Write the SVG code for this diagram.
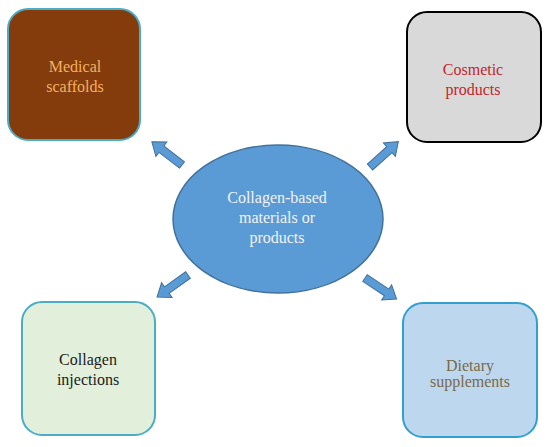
<svg xmlns="http://www.w3.org/2000/svg" width="550" height="447" viewBox="0 0 550 447">
<defs>
<style>
text{font-family:'Liberation Serif','DejaVu Serif',serif;font-size:16px;text-anchor:middle}
.box{stroke-width:2}
.arr{fill:#5b9bd5;stroke:#41719c;stroke-width:1}
</style>
<path id="arrow" d="M0,-4 H26 V-9 L38,0 L26,9 V4 H0 Z"/>
</defs>
<rect width="550" height="447" fill="#ffffff"/>
<g id="n-medical">
<rect class="box" x="8" y="9" width="132" height="131" rx="20" fill="#843c0c" stroke="#4bacc6"/>
<text x="75" y="72" fill="#f4b060" font-family="Liberation Serif, serif">Medical</text>
<text x="75" y="92" fill="#f4b060" font-family="Liberation Serif, serif">scaffolds</text>
</g>
<g id="n-cosmetic">
<rect class="box" x="407" y="12" width="134" height="130" rx="20" fill="#d9d9d9" stroke="#000000"/>
<text x="473" y="75" fill="#c0272d" font-family="Liberation Serif, serif">Cosmetic</text>
<text x="473" y="95" fill="#c0272d" font-family="Liberation Serif, serif">products</text>
</g>
<g id="n-injections">
<rect class="box" x="22" y="302" width="133" height="133" rx="20" fill="#e2efda" stroke="#4bacc6"/>
<text x="88" y="365" fill="#1a1a1a" font-family="Liberation Serif, serif">Collagen</text>
<text x="88" y="385" fill="#1a1a1a" font-family="Liberation Serif, serif">injections</text>
</g>
<g id="n-dietary">
<rect class="box" x="403" y="303" width="134" height="134" rx="20" fill="#bdd7ee" stroke="#31a0d0"/>
<text x="470" y="371" fill="#7a6a48" font-family="Liberation Serif, serif">Dietary</text>
<text x="470" y="387" fill="#7a6a48" font-family="Liberation Serif, serif">supplements</text>
</g>
<g id="n-center">
<ellipse cx="278" cy="219" rx="105" ry="74" fill="#5b9bd5" stroke="#41719c" stroke-width="1.5"/>
<text x="277" y="203" fill="#f2f2f2" font-family="Liberation Serif, serif">Collagen-based</text>
<text x="277" y="223" fill="#f2f2f2" font-family="Liberation Serif, serif">materials or</text>
<text x="277" y="243" fill="#f2f2f2" font-family="Liberation Serif, serif">products</text>
</g>
<g id="connectors">
<use href="#arrow" class="arr" transform="translate(182,165) rotate(217.5)"/>
<use href="#arrow" class="arr" transform="translate(370,167) rotate(-41.8)"/>
<use href="#arrow" class="arr" transform="translate(188,275) rotate(144.6)"/>
<use href="#arrow" class="arr" transform="translate(365,278) rotate(33.7)"/>
</g>
</svg>
